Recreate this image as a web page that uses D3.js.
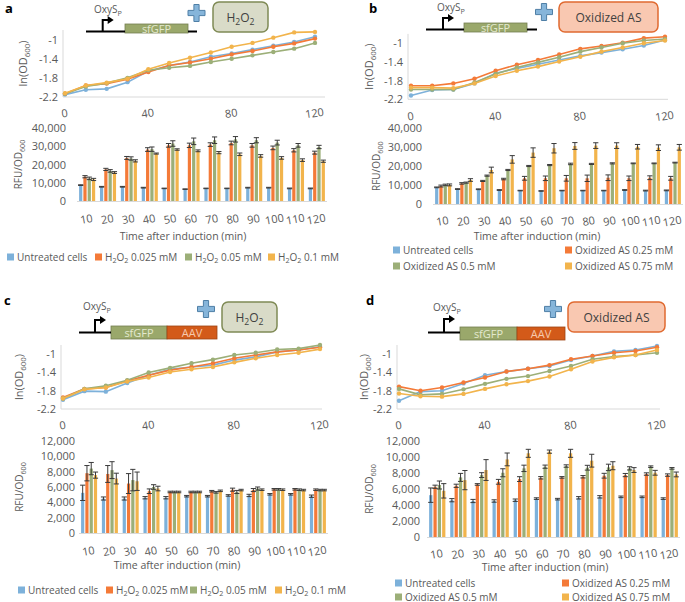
<!DOCTYPE html>
<html>
<head>
<meta charset="utf-8">
<script src="https://cdn.jsdelivr.net/npm/d3@7"></script>
<style>
body { margin: 0; background: #fff; }
svg text { font-family: "Open Sans", sans-serif; fill: #595959; }
</style>
</head>
<body>
<div id="chart"></div>
<script>
// ---- data ----
var times = [0, 10, 20, 30, 40, 50, 60, 70, 80, 90, 100, 110, 120];
var timeTicks = [0, 40, 80, 120];
var minutes = ["10", "20", "30", "40", "50", "60", "70", "80", "90", "100", "110", "120"];
var odTicks = [-2.2, -1.8, -1.4, -1];
var rfuTicksHigh = [0, 10000, 20000, 30000, 40000];
var rfuTicksLow = [0, 2000, 4000, 6000, 8000, 10000, 12000];

// _{..} marks a subscript
var namesH2O2 = ["Untreated cells", "H_{2}O_{2} 0.025 mM", "H_{2}O_{2} 0.05 mM", "H_{2}O_{2} 0.1 mM"];
var namesAS = ["Untreated cells", "Oxidized AS 0.25 mM", "Oxidized AS 0.5 mM", "Oxidized AS 0.75 mM"];

// ln(OD600), series order: untreated, low, mid, high
var odA = [
  [-2.15, -2.05, -2.03, -1.89, -1.66, -1.54, -1.47, -1.36, -1.29, -1.21, -1.13, -1.05, -0.94],
  [-2.13, -1.96, -1.92, -1.83, -1.68, -1.54, -1.48, -1.40, -1.31, -1.24, -1.15, -1.08, -0.98],
  [-2.13, -1.98, -1.91, -1.80, -1.64, -1.59, -1.55, -1.47, -1.40, -1.33, -1.26, -1.19, -1.07],
  [-2.12, -1.96, -1.90, -1.82, -1.62, -1.49, -1.38, -1.27, -1.15, -1.07, -0.96, -0.85, -0.84]
];
var odB = [
  [-2.12, -2.00, -1.99, -1.86, -1.64, -1.54, -1.45, -1.36, -1.27, -1.20, -1.13, -1.05, -0.93],
  [-1.91, -1.91, -1.86, -1.76, -1.59, -1.46, -1.36, -1.24, -1.12, -1.06, -0.99, -0.89, -0.86],
  [-1.99, -1.99, -1.99, -1.84, -1.66, -1.52, -1.41, -1.30, -1.18, -1.09, -1.00, -0.94, -0.91],
  [-1.95, -1.95, -1.96, -1.86, -1.70, -1.59, -1.50, -1.39, -1.29, -1.18, -1.09, -1.00, -0.94]
];
var odC = [
  [-2.00, -1.81, -1.82, -1.63, -1.46, -1.33, -1.28, -1.24, -1.13, -1.06, -0.95, -0.91, -0.84],
  [-1.95, -1.76, -1.73, -1.58, -1.46, -1.35, -1.28, -1.20, -1.09, -1.02, -0.95, -0.91, -0.85],
  [-1.97, -1.76, -1.69, -1.57, -1.40, -1.30, -1.20, -1.12, -1.02, -0.97, -0.90, -0.88, -0.80],
  [-1.97, -1.77, -1.73, -1.60, -1.51, -1.39, -1.33, -1.28, -1.18, -1.09, -1.02, -0.97, -0.89]
];
var odD = [
  [-2.02, -1.82, -1.80, -1.64, -1.46, -1.38, -1.32, -1.26, -1.13, -1.04, -0.94, -0.91, -0.82],
  [-1.71, -1.80, -1.73, -1.62, -1.51, -1.38, -1.32, -1.24, -1.11, -1.04, -0.97, -0.93, -0.85],
  [-1.76, -1.89, -1.87, -1.77, -1.65, -1.54, -1.48, -1.37, -1.26, -1.11, -1.05, -1.02, -0.97],
  [-1.86, -1.92, -1.93, -1.87, -1.76, -1.66, -1.59, -1.49, -1.33, -1.16, -1.07, -1.02, -0.91]
];

// RFU/OD600 and error bars
var rfuA = [
  [8700, 7800, 7800, 7300, 6900, 6500, 6900, 6900, 7300, 7300, 6900, 6900],
  [13300, 17300, 23600, 28200, 30500, 30500, 30900, 31800, 30500, 29100, 27800, 26500],
  [12400, 16500, 23300, 28400, 31500, 32700, 33300, 33800, 33300, 32000, 30500, 29600],
  [11800, 15600, 22000, 26000, 28200, 27500, 26500, 25600, 24700, 23600, 22400, 21800]
];
var errA = [
  [200, 200, 200, 200, 150, 150, 150, 150, 200, 200, 200, 200],
  [600, 600, 800, 1000, 1000, 1200, 1000, 1000, 1000, 1000, 900, 800],
  [700, 700, 900, 1200, 1500, 1800, 1800, 1500, 1400, 1300, 1000, 900],
  [600, 500, 600, 300, 400, 500, 600, 700, 700, 700, 700, 600]
];
var rfuB = [
  [8800, 7900, 7800, 7400, 7100, 6900, 7100, 7100, 7100, 7400, 7100, 7200],
  [9500, 10900, 12200, 13200, 13600, 13600, 13600, 13600, 13900, 13600, 13900, 13600],
  [10100, 11300, 15000, 18000, 20100, 20600, 21200, 21200, 21500, 21500, 21500, 21900],
  [10100, 12700, 18000, 23600, 27200, 29500, 30700, 30900, 30900, 30300, 29800, 30000]
];
var errB = [
  [200, 200, 200, 200, 150, 150, 150, 150, 150, 200, 200, 200],
  [500, 400, 300, 400, 1000, 1200, 1500, 1700, 1500, 1200, 1000, 1000],
  [400, 300, 300, 300, 300, 300, 400, 300, 300, 200, 200, 200],
  [500, 700, 1500, 2000, 2500, 2500, 1800, 1500, 1500, 1200, 1500, 1500]
];
var rfuC = [
  [5240, 4500, 4500, 4600, 4600, 4800, 4800, 4900, 4900, 5050, 5050, 4800],
  [7800, 7700, 6450, 5450, 5350, 5350, 5450, 5650, 5600, 5700, 5700, 5650],
  [8400, 8200, 6900, 6000, 5350, 5350, 5300, 5350, 5800, 5700, 5650, 5600],
  [7550, 7100, 6750, 5800, 5350, 5350, 5500, 5600, 5650, 5650, 5600, 5600]
];
var errC = [
  [1000, 200, 200, 150, 150, 100, 100, 100, 150, 100, 100, 150],
  [1000, 1100, 1300, 300, 100, 100, 100, 200, 200, 100, 100, 100],
  [800, 1100, 1400, 300, 100, 100, 100, 200, 200, 100, 100, 100],
  [400, 700, 1200, 300, 100, 100, 100, 100, 100, 100, 100, 100]
];
var rfuD = [
  [5230, 4600, 4500, 4500, 4600, 4800, 4730, 4900, 5020, 5020, 5020, 4800],
  [6280, 6400, 6570, 6900, 7240, 7400, 7450, 7530, 7660, 7740, 7870, 7740],
  [6500, 7450, 7740, 8030, 8580, 8790, 8870, 8660, 8700, 8580, 8790, 8580],
  [5770, 7110, 8370, 9700, 10460, 10670, 10460, 9540, 8910, 8370, 8030, 7820]
];
var errD = [
  [900, 200, 200, 150, 150, 100, 100, 150, 150, 100, 100, 100],
  [200, 200, 100, 300, 300, 150, 100, 150, 300, 200, 150, 150],
  [500, 500, 300, 500, 400, 200, 150, 300, 400, 200, 100, 100],
  [900, 1200, 1300, 800, 500, 200, 500, 800, 500, 300, 300, 300]
];

var colors = ["#7db1da", "#f47a38", "#9caf78", "#f2b44c"];
var axisColor = "#d9d9d9";

var svg = d3.select("#chart").append("svg")
    .attr("width", 685)
    .attr("height", 602);

// writes "H_{2}O_{2}" style strings with subscripts
function richText(sel, str, fs) {
    var parts = str.split(/(_\{[^}]*\})/);
    var down = false;
    parts.forEach(function (part) {
        if (part === "") return;
        if (part[0] === "_") {
            sel.append("tspan").attr("font-size", fs * 0.72).attr("dy", fs * 0.28).text(part.slice(2, -1));
            down = true;
        } else {
            sel.append("tspan").attr("font-size", fs).attr("dy", down ? -fs * 0.28 : 0).text(part);
            down = false;
        }
    });
    return sel;
}

// ---- panel layouts (pixel positions only) ----
var panels = [
    { label: "a", lx: [5, 13], od: odA, rfu: rfuA, err: errA, names: namesH2O2, rfuTicks: rfuTicksHigh,
      line: { x: [65, 315], axis: [63, 325], y: [97, 30], ttl: 27, tickY: 113 },
      bar: { x: [77, 327], y: [201, 128], ttl: 22, labY: 219, titleX: 183, titleY: 240, labEnd: 66 },
      legend: { rows: [[7, 257], [95, 257], [185, 257], [268, 257]] },
      construct: { base: [86, 197, 31.5], pro: 102.7, proTop: 20, text: [108, 9], genes: [[125, 188, "sfGFP", "#9aa86b"]], geneY: [24, 33],
                   plus: [196.5, 13], box: [213, 2, 55, 30], boxText: "H_{2}O_{2}", boxFill: "#d9dbc8", boxStroke: "#7f8a55" } },
    { label: "b", lx: [369, 13], od: odB, rfu: rfuB, err: errB, names: namesAS, rfuTicks: rfuTicksHigh,
      line: { x: [411, 665], axis: [408, 668], y: [99.3, 33.9], ttl: 373, tickY: 116 },
      bar: { x: [433, 683], y: [204, 128.4], ttl: 380, labY: 221, titleX: 537, titleY: 240, labEnd: 422 },
      legend: { rows: [[393, 250], [565, 250], [393, 266], [565, 266]] },
      construct: { base: [426, 537, 29.5], pro: 443, proTop: 18, text: [451, 7], genes: [[464, 527, "sfGFP", "#9aa86b"]], geneY: [23, 32],
                   plus: [544, 12], box: [559, 2, 99, 30], boxText: "Oxidized AS", boxFill: "#f9c8b1", boxStroke: "#e06a30" } },
    { label: "c", lx: [4, 305], od: odC, rfu: rfuC, err: errC, names: namesH2O2, rfuTicks: rfuTicksLow,
      line: { x: [63, 320], axis: [61, 322], y: [409, 345], ttl: 23, tickY: 425 },
      bar: { x: [79, 328], y: [533, 441], ttl: 23, labY: 551, titleX: 177, titleY: 569, labEnd: 75 },
      legend: { rows: [[18, 590], [106, 590], [190, 590], [275, 590]] },
      construct: { base: [79, 111, 332.5], pro: 95, proTop: 320, text: [97, 306], genes: [[111, 167, "sfGFP", "#9aa86b"], [167, 217, "AAV", "#d35a19"]], geneY: [326, 339],
                   plus: [206, 309], box: [222, 302, 55, 30], boxText: "H_{2}O_{2}", boxFill: "#d9dbc8", boxStroke: "#7f8a55" } },
    { label: "d", lx: [366, 305], od: odD, rfu: rfuD, err: errD, names: namesAS, rfuTicks: rfuTicksLow,
      line: { x: [399, 657], axis: [397, 660], y: [409, 345], ttl: 368, tickY: 425 },
      bar: { x: [427, 680], y: [537, 441], ttl: 373, labY: 554, titleX: 545, titleY: 571, labEnd: 420 },
      legend: { rows: [[395, 583], [562, 583], [395, 597], [562, 597]] },
      construct: { base: [428, 460, 332.5], pro: 444, proTop: 319, text: [447, 307], genes: [[460, 517, "sfGFP", "#9aa86b"], [517, 565, "AAV", "#d35a19"]], geneY: [327, 340],
                   plus: [553, 309], box: [568, 302, 97, 30], boxText: "Oxidized AS", boxFill: "#f9c8b1", boxStroke: "#e06a30" } }
];

function drawConstruct(g, c) {
    // genes
    c.genes.forEach(function (gn) {
        g.append("rect")
            .attr("x", gn[0]).attr("y", c.geneY[0])
            .attr("width", gn[1] - gn[0]).attr("height", c.geneY[1] - c.geneY[0])
            .attr("fill", gn[3])
            .attr("stroke", d3.color(gn[3]).darker(0.8)).attr("stroke-width", 0.8);
        g.append("text")
            .attr("x", (gn[0] + gn[1]) / 2).attr("y", (c.geneY[0] + c.geneY[1]) / 2 + 4)
            .attr("text-anchor", "middle")
            .attr("font-size", 11)
            .style("fill", gn[2] === "AAV" ? "#f6c9ad" : "#e3e8cf")
            .text(gn[2]);
    });
    // DNA line
    g.append("line")
        .attr("x1", c.base[0]).attr("x2", c.genes[0][0]).attr("y1", c.base[2]).attr("y2", c.base[2])
        .attr("stroke", "#000").attr("stroke-width", 2);
    var lastEnd = c.genes[c.genes.length - 1][1];
    if (c.base[1] > lastEnd) {
        g.append("line")
            .attr("x1", lastEnd).attr("x2", c.base[1]).attr("y1", c.base[2]).attr("y2", c.base[2])
            .attr("stroke", "#000").attr("stroke-width", 2);
    }
    // promoter arrow
    g.append("path")
        .attr("d", "M" + c.pro + "," + c.base[2] + "V" + c.proTop + "H" + (c.pro + 6))
        .attr("fill", "none").attr("stroke", "#000").attr("stroke-width", 2);
    g.append("path")
        .attr("d", "M" + (c.pro + 5) + "," + (c.proTop - 4) + "L" + (c.pro + 11) + "," + c.proTop + "L" + (c.pro + 5) + "," + (c.proTop + 4) + "Z")
        .attr("fill", "#000");
    richText(g.append("text")
        .attr("x", c.text[0]).attr("y", c.text[1] + 4)
        .attr("text-anchor", "middle"), "OxyS_{P}", 10);
    // plus sign
    var px = c.plus[0], py = c.plus[1], a = 8.5, t = 2.6;
    g.append("path")
        .attr("d", "M" + (px - t) + "," + (py - a) + "H" + (px + t) + "V" + (py - t) + "H" + (px + a) + "V" + (py + t) +
            "H" + (px + t) + "V" + (py + a) + "H" + (px - t) + "V" + (py + t) + "H" + (px - a) + "V" + (py - t) +
            "H" + (px - t) + "Z")
        .attr("fill", "#86b5da").attr("stroke", "#4f7fa6").attr("stroke-width", 1);
    // inducer box
    g.append("rect")
        .attr("x", c.box[0]).attr("y", c.box[1]).attr("width", c.box[2]).attr("height", c.box[3])
        .attr("rx", 6)
        .attr("fill", c.boxFill).attr("stroke", c.boxStroke).attr("stroke-width", 1.5);
    richText(g.append("text")
        .attr("x", c.box[0] + c.box[2] / 2).attr("y", c.box[1] + c.box[3] / 2 + 4.5)
        .attr("text-anchor", "middle").style("fill", "#404040"), c.boxText, 12);
}

function drawPanel(p) {
    var g = svg.append("g");

    g.append("text")
        .attr("x", p.lx[0]).attr("y", p.lx[1])
        .attr("font-family", "Liberation Sans, Arial, sans-serif")
        .attr("font-weight", "bold").attr("font-size", 13)
        .style("fill", "#000")
        .text(p.label);

    drawConstruct(g, p.construct);

    // ---------- growth curve ----------
    var L = p.line;
    var x = d3.scaleLinear().domain([0, 120]).range(L.x);
    var y = d3.scaleLinear().domain([-2.2, -0.8]).range(L.y);

    g.append("line")
        .attr("x1", L.axis[0]).attr("x2", L.axis[0]).attr("y1", y(-0.8)).attr("y2", y(-2.2))
        .attr("stroke", axisColor);
    g.append("line")
        .attr("x1", L.axis[0]).attr("x2", L.axis[1]).attr("y1", y(-2.2)).attr("y2", y(-2.2))
        .attr("stroke", axisColor);

    var yAxis = g.append("g")
        .attr("transform", "translate(" + (L.axis[0] - 5) + ",0)")
        .call(d3.axisLeft(y).tickValues(odTicks).tickSize(0).tickPadding(0)
            .tickFormat(function (d) { return String(d); }));
    yAxis.select(".domain").remove();
    yAxis.selectAll("text").attr("font-size", 11).style("fill", "#595959").attr("font-family", null);

    g.selectAll(".ttick")
        .data(timeTicks)
        .enter().append("text")
        .attr("transform", function (d) { return "translate(" + x(d) + "," + (L.tickY + 4) + ") rotate(-8)"; })
        .attr("text-anchor", "middle")
        .attr("font-size", 11)
        .text(function (d) { return d; });

    richText(g.append("text")
        .attr("transform", "translate(" + L.ttl + "," + ((L.y[0] + L.y[1]) / 2) + ") rotate(-90)")
        .attr("text-anchor", "middle"), "ln(OD_{600})", 11);

    var line = d3.line()
        .x(function (d, i) { return x(times[i]); })
        .y(function (d) { return y(d); });

    p.od.forEach(function (s, k) {
        g.append("path")
            .datum(s)
            .attr("d", line)
            .attr("fill", "none")
            .attr("stroke", colors[k])
            .attr("stroke-width", 1.6);
        g.selectAll(".pt" + k)
            .data(s)
            .enter().append("circle")
            .attr("cx", function (d, i) { return x(times[i]); })
            .attr("cy", function (d) { return y(d); })
            .attr("r", 2.2)
            .attr("fill", colors[k]);
    });

    // ---------- fluorescence bars ----------
    var B = p.bar;
    var x0 = d3.scaleBand().domain(minutes).range(B.x).paddingInner(0.23).paddingOuter(0.1);
    var x1 = d3.scaleBand().domain([0, 1, 2, 3]).range([0, x0.bandwidth()]).paddingInner(0.25);
    var yb = d3.scaleLinear().domain([0, p.rfuTicks[p.rfuTicks.length - 1]]).range(B.y);

    var bAxis = g.append("g")
        .attr("transform", "translate(" + B.labEnd + ",0)")
        .call(d3.axisLeft(yb).tickValues(p.rfuTicks).tickSize(0).tickPadding(0).tickFormat(d3.format(",")));
    bAxis.select(".domain").remove();
    bAxis.selectAll("text").attr("font-size", 11).style("fill", "#595959").attr("font-family", null);

    richText(g.append("text")
        .attr("transform", "translate(" + B.ttl + "," + ((B.y[0] + B.y[1]) / 2) + ") rotate(-90)")
        .attr("text-anchor", "middle"), "RFU/OD_{600}", 10);

    p.rfu.forEach(function (s, k) {
        g.selectAll(".bar" + k)
            .data(s)
            .enter().append("rect")
            .attr("x", function (d, i) { return x0(minutes[i]) + x1(k); })
            .attr("y", function (d) { return yb(d); })
            .attr("width", x1.bandwidth())
            .attr("height", function (d) { return yb(0) - yb(d); })
            .attr("fill", colors[k]);
    });
    p.rfu.forEach(function (s, k) {
        var e = p.err[k];
        s.forEach(function (d, i) {
            var cx = x0(minutes[i]) + x1(k) + x1.bandwidth() / 2;
            var eb = g.append("g").attr("stroke", "#3a3a3a").attr("stroke-width", 1);
            eb.append("line").attr("x1", cx).attr("x2", cx).attr("y1", yb(d - e[i])).attr("y2", yb(d + e[i]));
            eb.append("line").attr("x1", cx - 2.6).attr("x2", cx + 2.6).attr("y1", yb(d - e[i])).attr("y2", yb(d - e[i]));
            eb.append("line").attr("x1", cx - 2.6).attr("x2", cx + 2.6).attr("y1", yb(d + e[i])).attr("y2", yb(d + e[i]));
        });
    });

    g.append("line")
        .attr("x1", B.x[0]).attr("x2", B.x[1]).attr("y1", yb(0) + 0.5).attr("y2", yb(0) + 0.5)
        .attr("stroke", axisColor);

    g.selectAll(".cat")
        .data(minutes)
        .enter().append("text")
        .attr("transform", function (d) {
            return "translate(" + (x0(d) + x0.bandwidth() / 2) + "," + (B.labY + 4) + ") rotate(-10)";
        })
        .attr("text-anchor", "middle")
        .attr("font-size", 11)
        .text(function (d) { return d; });

    g.append("text")
        .attr("x", B.titleX).attr("y", B.titleY)
        .attr("text-anchor", "middle")
        .attr("font-size", 10.5)
        .text("Time after induction (min)");

    // ---------- legend ----------
    p.names.forEach(function (n, k) {
        var pos = p.legend.rows[k];
        g.append("rect")
            .attr("x", pos[0]).attr("y", pos[1] - 3.5)
            .attr("width", 7).attr("height", 7)
            .attr("fill", colors[k]);
        richText(g.append("text")
            .attr("x", pos[0] + 10).attr("y", pos[1] + 3.5), n, 10);
    });
}

panels.forEach(drawPanel);
</script>
</body>
</html>
